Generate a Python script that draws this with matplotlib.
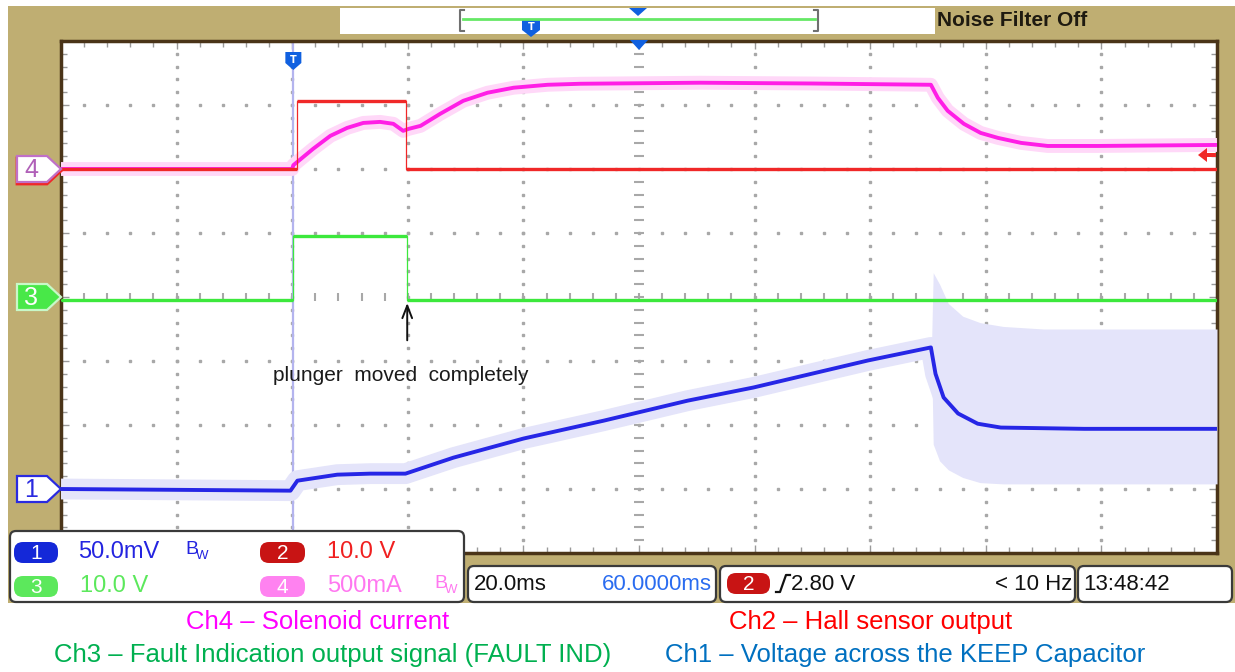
import numpy as np
import matplotlib
matplotlib.use("Agg")
import matplotlib.pyplot as plt
from matplotlib.patches import Rectangle, Polygon, FancyBboxPatch

# --- scope settings ---
T_DIV, T_LEFT = 20.0, -40.0            # ms/div, time at left edge
CH1_SCALE, CH1_POS = 50.0, -3          # mV/div, ground marker (div)
CH2_SCALE, CH2_POS = 10.0, 2           # V/div
CH3_SCALE, CH3_POS = 10.0, 0           # V/div
CH4_SCALE, CH4_POS = 500.0, 2          # mA/div

# --- waveforms (time in ms) ---
# Ch4: solenoid current, mA
ch4_t = [-40, 0, 0.2, 3.6, 6.6, 9.5, 12.3, 15.2, 17.5, 19.2, 20.1, 22.2, 25.6,
         29.6, 33.8, 38.3, 44.2, 49.9, 70.6, 90, 110.5, 111.7, 113.4, 116.2,
         119.1, 122.1, 126.1, 130.7, 139.4, 160]
ch4_ma = [0, 0, 30, 157, 259, 321, 360, 368, 353, 298, 313, 337, 431,
          533, 596, 635, 658, 666, 674, 668, 658, 556, 455, 353,
          282, 243, 204, 180, 180, 188]

# Ch2: hall sensor output, V
ch2_t = [-40, 0.9, 0.9, 19.7, 19.7, 160]
ch2_v = [0, 0, 10.6, 10.6, 0, 0]

# Ch3: FAULT IND output, V
ch3_t = [-40, 0.2, 0.2, 19.9, 19.9, 160]
ch3_v = [-0.5, -0.5, 9.5, 9.5, -0.5, -0.5]

# Ch1: KEEP capacitor voltage, mV
ch1_t = [-40, -0.3, 0.9, 7.8, 13.5, 19.6, 27.9, 40, 53.9, 68.4, 79.8, 99.6,
         110.5, 111.3, 112.7, 115.2, 118.6, 122.6, 137, 160]
ch1_mv = [0, -1.3, 6.5, 11.2, 12, 12, 24.5, 39.4, 53.4, 69, 79.3, 100.4,
          110.6, 90, 71.5, 59, 51, 48, 47, 47]

# Ch1 persistence envelope after the release
env_t = [110.6, 110.9, 112, 113.5, 116, 119, 123, 130, 160]
env_hi = [110, 169, 160, 145, 135, 130, 127, 125, 125]
env_lo = [110, 35, 22, 15, 9, 5, 4, 4, 4]

# --- colours ---
TAN = "#bfae72"
C1, C1_HALO = "#2626e6", "#e4e4fa"
C2 = "#f02828"
C3 = "#3ce83c"
C4, C4_HALO = "#ff1ee6", "#ffd8f8"

# graticule box in pixels
GX0, GX1, GY0, GY1 = 61, 1217, 41, 553
W, H = 1235, 672
SCOPE_FONT = ["Liberation Sans", "DejaVu Sans"]


def div(vals, scale, pos):
    return np.asarray(vals, dtype=float) / scale + pos


def px_y(d):
    return GY0 + (4 - d) * (GY1 - GY0) / 8.0


def px_x(t):
    return GX0 + (t - T_LEFT) / T_DIV * (GX1 - GX0) / 10.0


fig = plt.figure(figsize=(W / 100, H / 100), dpi=100)
fig.patch.set_facecolor("white")

bg = fig.add_axes([0, 0, 1, 1], zorder=0)
bg.set_xlim(0, W); bg.set_ylim(H, 0); bg.axis("off")
bg.add_patch(Rectangle((8, 6), W - 8, 597, fc=TAN, ec="none"))

# top bar
bg.add_patch(Rectangle((340, 8), 595, 26, fc="white", ec="none"))
bg.plot([463, 815], [19, 19], color="#66e866", lw=2)
for xb, sgn in [(460, 1), (818, -1)]:
    bg.plot([xb + 4 * sgn, xb, xb, xb + 4 * sgn], [10, 10, 31, 31], color="#707070", lw=1.5)
bg.add_patch(Polygon([(629, 8), (647, 8), (638, 16)], fc="#1060e0", ec="none"))
bg.add_patch(Polygon([(522, 19), (540, 19), (540, 30), (531, 37), (522, 30)], fc="#1060e0", ec="none"))
bg.text(531, 27, "T", color="white", fontsize=7, fontweight="bold", ha="center", va="center")
bg.text(937, 20, "Noise Filter Off", fontsize=15, fontweight="bold", family=SCOPE_FONT,
        color="#1e1a10", ha="left", va="center")

# --- graticule ---
ax = fig.add_axes([GX0 / W, 1 - GY1 / H, (GX1 - GX0) / W, (GY1 - GY0) / H], zorder=1)
ax.set_xlim(T_LEFT, T_LEFT + 10 * T_DIV)
ax.set_ylim(-4, 4)
ax.set_facecolor("white")
for s in ax.spines.values():
    s.set_color("#4a3418"); s.set_linewidth(2.5)
ax.set_xticks(np.arange(T_LEFT, T_LEFT + 10 * T_DIV + 1, T_DIV))
ax.set_xticks(np.arange(T_LEFT, T_LEFT + 10 * T_DIV + 0.1, T_DIV / 5), minor=True)
ax.set_yticks(np.arange(-4, 5, 1))
ax.set_yticks(np.arange(-4, 4.01, 0.2), minor=True)
ax.tick_params(which="both", direction="in", top=True, right=True, labelbottom=False,
               labelleft=False, color="#9a9a9a", width=1)
ax.tick_params(which="major", length=6)
ax.tick_params(which="minor", length=4)

dot = dict(ls="none", color="#a8a8a8", zorder=1)
ys = np.arange(-4, 4.01, 0.2)
xs = np.arange(T_LEFT, T_LEFT + 10 * T_DIV + 0.1, T_DIV / 5)
for k in range(1, 10):
    tx = T_LEFT + k * T_DIV
    if k == 5:
        ax.plot(np.full_like(ys, tx), ys, marker="_", ms=7, mew=1.5, **dot)
    else:
        ax.plot(np.full_like(ys, tx), ys, marker="s", ms=1.6, **dot)
for j in range(-3, 4):
    if j == 0:
        ax.plot(xs, np.zeros_like(xs), marker="|", ms=6, mew=1.5, **dot)
    else:
        ax.plot(xs, np.full_like(xs, j), marker="s", ms=1.6, **dot)

# trigger position line
ax.axvline(0.2, color="#b4b4ee", lw=1.6, zorder=2)

# Ch1 with persistence
y1 = div(ch1_mv, CH1_SCALE, CH1_POS)
ax.plot(ch1_t, y1, color=C1_HALO, lw=15, solid_capstyle="butt", zorder=3)
ax.fill_between(env_t, div(env_lo, CH1_SCALE, CH1_POS), div(env_hi, CH1_SCALE, CH1_POS),
                color=C1_HALO, lw=0, zorder=3)
ax.plot(ch1_t, y1, color=C1, lw=2.8, zorder=6)

# Ch4 with persistence
y4 = div(ch4_ma, CH4_SCALE, CH4_POS)
ax.plot(ch4_t, y4, color=C4_HALO, lw=10, solid_capstyle="butt", zorder=4)
ax.plot(ch4_t, y4, color=C4, lw=2.8, zorder=7)


def draw_logic(t, v, scale, pos, color, z):
    t = np.asarray(t, dtype=float)
    y = div(v, scale, pos)
    ax.plot(t, y, color=color, lw=0.9, zorder=z)
    for i in range(len(t) - 1):
        if y[i] == y[i + 1]:
            ax.plot(t[i:i + 2], y[i:i + 2], color=color, lw=2.4,
                    solid_capstyle="butt", zorder=z)


draw_logic(ch3_t, ch3_v, CH3_SCALE, CH3_POS, C3, 5)
draw_logic(ch2_t, ch2_v, CH2_SCALE, CH2_POS, C2, 8)

# annotation
ax.annotate("", xy=(19.9, -0.05), xytext=(19.9, -0.72),
            arrowprops=dict(arrowstyle="->,head_length=0.9,head_width=0.35", color="#111111", lw=1.4),
            zorder=9)
ax.text(18.7, -1.22, "plunger  moved  completely", fontsize=15, family="Liberation Sans",
        color="#1a1a1a", ha="center", va="center", zorder=9)

# --- overlay ---
fg = fig.add_axes([0, 0, 1, 1], zorder=2)
fg.set_xlim(0, W); fg.set_ylim(H, 0); fg.axis("off")
fg.patch.set_alpha(0)

# top trigger markers
tx_px = px_x(0.2)
fg.add_patch(Polygon([(tx_px - 8, 52), (tx_px + 8, 52), (tx_px + 8, 63), (tx_px, 70), (tx_px - 8, 63)],
                     fc="#1060e0", ec="none"))
fg.text(tx_px, 60, "T", color="white", fontsize=7, fontweight="bold", ha="center", va="center")
cx = px_x(60)
fg.add_patch(Polygon([(cx - 9, GY0 - 1), (cx + 9, GY0 - 1), (cx, GY0 + 9)], fc="#1060e0", ec="none"))

# right-hand reference arrow
fg.add_patch(Polygon([(1198, 155), (1207, 148), (1207, 153), (1216, 153), (1216, 157),
                      (1207, 157), (1207, 162)], fc="#f02828", ec="none"))


def chan_marker(y, label, fc, ec, tc, lw=1.6):
    pts = [(17, y - 13), (47, y - 13), (61, y), (47, y + 13), (17, y + 13)]
    fg.add_patch(Polygon(pts, closed=True, fc=fc, ec=ec, lw=lw))
    fg.text(31, y + 1, label, color=tc, fontsize=18, family=SCOPE_FONT, ha="center", va="center")


y_c2 = px_y(CH2_POS)
fg.add_patch(Polygon([(17, y_c2 - 11), (47, y_c2 - 11), (61, y_c2 + 2), (47, y_c2 + 15), (17, y_c2 + 15)],
                     fc="none", ec=C2, lw=2))
chan_marker(px_y(CH4_POS), "4", "white", "#c070c8", "#b060b8")
chan_marker(px_y(CH3_POS), "3", "#48e848", "#c8f8c8", "white")
chan_marker(px_y(CH1_POS), "1", "white", "#2a2ae0", "#2a2ae0")


def panel(x, y, w, h):
    fg.add_patch(FancyBboxPatch((x, y), w, h, boxstyle="round,pad=0,rounding_size=6",
                                fc="white", ec="#3a3a3a", lw=1.6))


def pill(x, y, w, h, fc, label):
    fg.add_patch(FancyBboxPatch((x, y), w, h, boxstyle="round,pad=0,rounding_size=9",
                                fc=fc, ec="none"))
    fg.text(x + w / 2, y + h / 2 + 1, label, color="white", fontsize=15, family=SCOPE_FONT,
            ha="center", va="center")


def bw(x, y, color):
    fg.text(x, y, "B", color=color, fontsize=14, family=SCOPE_FONT, ha="left", va="center")
    fg.text(x + 11, y + 6, "W", color=color, fontsize=9.5, family=SCOPE_FONT, ha="left", va="center")


# channel settings panel
panel(10, 531, 454, 71)
row1, row2 = 552, 586
pill(14, 542, 44, 21, "#1428d8", "1")
fg.text(78, row1, "50.0mV", color="#2424e0", fontsize=17, family=SCOPE_FONT, va="center")
bw(185, row1 - 2, "#2424e0")
pill(260, 542, 45, 21, "#c81414", "2")
fg.text(327, row1, "10.0 V", color="#f02020", fontsize=17, family=SCOPE_FONT, va="center")
pill(14, 576, 44, 21, "#5ce85c", "3")
fg.text(80, row2, "10.0 V", color="#5ce85c", fontsize=17, family=SCOPE_FONT, va="center")
pill(260, 576, 45, 21, "#ff82f0", "4")
fg.text(327, row2, "500mA", color="#ff78f0", fontsize=17, family=SCOPE_FONT, va="center")
bw(434, row2 - 2, "#ff78f0")

# timebase / trigger / clock panels
panel(468, 566, 248, 36)
fg.text(474, 584, "20.0ms", color="#111111", fontsize=16, family=SCOPE_FONT, va="center")
fg.text(712, 584, "60.0000ms", color="#2a6cf0", fontsize=16, family=SCOPE_FONT, va="center", ha="right")
panel(720, 566, 355, 36)
pill(727, 573, 43, 21, "#c81414", "2")
fg.plot([776, 780, 786, 790], [592, 592, 575, 575], color="#111111", lw=1.6)
fg.text(791, 584, "2.80 V", color="#111111", fontsize=16, family=SCOPE_FONT, va="center")
fg.text(1072, 584, "< 10 Hz", color="#111111", fontsize=16, family=SCOPE_FONT, va="center", ha="right")
panel(1078, 566, 154, 36)
fg.text(1083, 584, "13:48:42", color="#111111", fontsize=16, family=SCOPE_FONT, va="center")

# channel legend below the screen
leg = dict(fontsize=18.5, family="Liberation Sans", ha="center", va="center")
fg.text(318, 622, "Ch4 \u2013 Solenoid current", color="#ff00ff", **leg)
fg.text(871, 622, "Ch2 \u2013 Hall sensor output", color="#ff0000", **leg)
fg.text(333, 655, "Ch3 \u2013 Fault Indication output signal (FAULT IND)", color="#00b050", **leg)
fg.text(905, 655, "Ch1 \u2013 Voltage across the KEEP Capacitor", color="#0070c0", **leg)

fig.savefig("out.png", dpi=100)
